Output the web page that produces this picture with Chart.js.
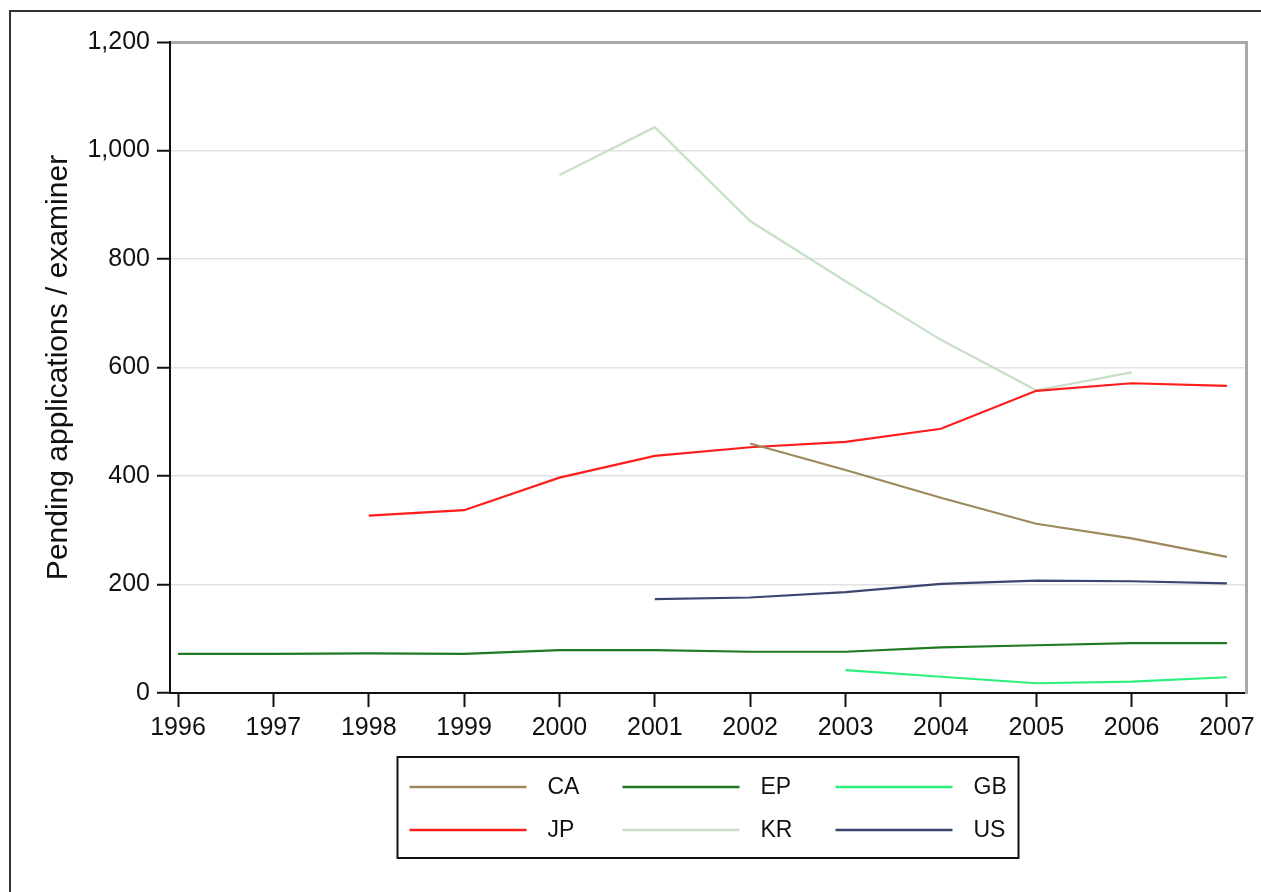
<!DOCTYPE html>
<html>
<head>
<meta charset="utf-8">
<script src="https://cdn.jsdelivr.net/npm/chart.js@4/dist/chart.umd.min.js"></script>
<style>
  html, body { margin: 0; padding: 0; background: #fff; overflow: hidden; }
  #wrap { position: relative; width: 1261px; height: 892px; }
  #frame { position: absolute; left: 9px; top: 10px; width: 1300px; height: 900px;
           border-top: 2px solid #333; border-left: 2px solid #333; pointer-events: none; }
  canvas { position: absolute; left: 0; top: 0; }
</style>
</head>
<body>
<div id="wrap">
  <canvas id="chart" width="1261" height="892"></canvas>
  <div id="frame"></div>
</div>
<script>
// years on the x axis
const years = [1996, 1997, 1998, 1999, 2000, 2001, 2002, 2003, 2004, 2005, 2006, 2007];
const yTicks = [0, 200, 400, 600, 800, 1000, 1200];

// pending applications per examiner (null = no data)
const CA = [null, null, null, null, null, null, 460, 411, 360, 312, 285, 251];
const EP = [72, 72, 73, 72, 79, 79, 76, 76, 84, 88, 92, 92];
const GB = [null, null, null, null, null, null, null, 42, 30, 18, 21, 29];
const JP = [null, null, 327, 337, 397, 437, 453, 463, 487, 557, 571, 566];
const KR = [null, null, null, null, 955, 1043, 870, 759, 651, 558, 591, null];
const US = [null, null, null, null, null, 173, 176, 186, 201, 207, 206, 202];

const names = ["CA", "EP", "GB", "JP", "KR", "US"];
const colors = ["#9c8a5c", "#1f7a22", "#2df07c", "#ff1c1c", "#c6e0c6", "#3c4670"];
const series = [CA, EP, GB, JP, KR, US];

const font = "'Liberation Sans', Arial, sans-serif";

function pts(arr) {
    return years.map((yr, i) => ({ x: yr, y: arr[i] }));
}

// legend: 3 columns x 2 rows in a box under the plot
const boxLegend = {
    id: "boxLegend",
    afterDraw(chart) {
        const ctx = chart.ctx;
        const area = chart.chartArea;
        const cx = (area.left + area.right) / 2;
        const w = 621, h = 101;
        const left = cx - w / 2, top = 757;
        ctx.save();
        ctx.strokeStyle = "#111";
        ctx.lineWidth = 2;
        ctx.strokeRect(left, top, w, h);
        ctx.font = "23px " + font;
        ctx.textBaseline = "middle";
        chart.data.datasets.forEach(function(ds, i) {
            const col = i % 3, row = Math.floor(i / 3);
            const x = left + 12 + col * 213;
            const y = top + 30 + row * 43;
            ctx.strokeStyle = ds.borderColor;
            ctx.lineWidth = 2.5;
            ctx.beginPath();
            ctx.moveTo(x, y);
            ctx.lineTo(x + 117, y);
            ctx.stroke();
            ctx.fillStyle = "#111";
            ctx.fillText(ds.label, x + 138, y + 1);
        });
        ctx.restore();
    }
};

new Chart("chart", {
    type: "line",
    data: {
        datasets: names.map(function(n, i) {
            return {
                label: n,
                data: pts(series[i]),
                borderColor: colors[i],
                backgroundColor: colors[i],
                borderWidth: 2.2,
                pointRadius: 0,
                fill: false,
                tension: 0
            };
        })
    },
    options: {
        responsive: false,
        animation: false,
        layout: { padding: { top: 42, right: 0, left: 0, bottom: 0 } },
        plugins: {
            legend: { display: false },
            tooltip: { enabled: false }
        },
        scales: {
            x: {
                type: "linear",
                min: 1995.916,
                max: 2007.2,
                afterBuildTicks: function(scale) {
                    scale.ticks = years.map(v => ({ value: v }));
                },
                afterFit: function(scale) { scale.height = 199; },
                border: { color: "#111", width: 2 },
                grid: { drawOnChartArea: false, tickLength: 14, tickColor: "#111", tickWidth: 2 },
                ticks: {
                    padding: 6,
                    autoSkip: false,
                    maxRotation: 0,
                    color: "#111",
                    font: { family: font, size: 25 },
                    callback: v => String(v)
                }
            },
            y: {
                min: 0,
                max: 1200,
                afterBuildTicks: function(scale) {
                    scale.ticks = yTicks.map(v => ({ value: v }));
                },
                afterFit: function(scale) { scale.width = 170; },
                border: { color: "#111", width: 2 },
                grid: {
                    color: c => c.tick.value === 1200 ? "#a8a8a8" : (c.tick.value === 0 ? "rgba(0,0,0,0)" : "#e2e2e2"),
                    lineWidth: c => c.tick.value === 1200 ? 3 : 1.5,
                    tickLength: 13,
                    tickColor: "#111",
                    tickWidth: 2
                },
                ticks: {
                    padding: 7,
                    color: "#111",
                    font: { family: font, size: 25 },
                    callback: v => v.toLocaleString("en-US")
                },
                title: {
                    display: true,
                    text: "Pending applications / examiner",
                    color: "#111",
                    font: { family: font, size: 30 },
                    padding: { top: 41, bottom: 0 }
                }
            },
            y2: {
                position: "right",
                min: 0,
                max: 1200,
                afterFit: function(scale) { scale.width = 14; },
                border: { color: "#a8a8a8", width: 3 },
                grid: { display: false },
                ticks: { display: false }
            }
        }
    },
    plugins: [boxLegend]
});
</script>
</body>
</html>
